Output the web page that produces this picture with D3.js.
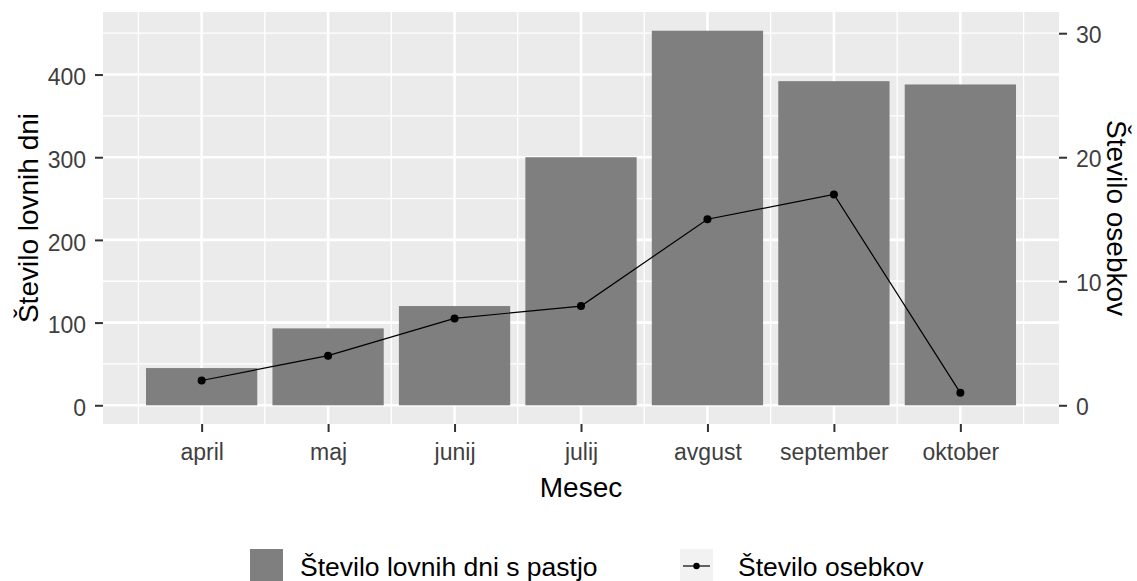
<!DOCTYPE html>
<html>
<head>
<meta charset="utf-8">
<script src="https://cdn.jsdelivr.net/npm/d3@7"></script>
<style>
  body { margin: 0; background: #fff; }
  text { font-family: "Liberation Sans", Arial, sans-serif; }
</style>
</head>
<body>
<div id="chart"></div>
<script>
// podatki
let meseci = ["april", "maj", "junij", "julij", "avgust", "september", "oktober"];
let lovniDnevi = [45, 93, 120, 300, 453, 392, 388];
let osebki = [2, 4, 7, 8, 15, 17, 1];
let leviTicks = [0, 100, 200, 300, 400];
let desniTicks = [0, 10, 20, 30];
let faktor = 15; // desna os = leva / 15

let W = 1137, H = 581;
let panel = { left: 103, right: 1059, top: 12, bottom: 424 };

let svg = d3.select("#chart").append("svg")
  .attr("width", W)
  .attr("height", H);

let xScale = d3.scaleLinear()
  .domain([0.22, meseci.length + 0.78])
  .range([panel.left, panel.right]);
let step = xScale(2) - xScale(1);

let maxBar = d3.max(lovniDnevi);
let yScale = d3.scaleLinear()
  .domain([-maxBar * 0.05, maxBar * 1.05])
  .range([panel.bottom, panel.top]);
let y2Scale = d3.scaleLinear()
  .domain(yScale.domain().map(d => d / faktor))
  .range([panel.bottom, panel.top]);

//ozadje
svg.append("rect")
  .attr("x", panel.left).attr("y", panel.top)
  .attr("width", panel.right - panel.left)
  .attr("height", panel.bottom - panel.top)
  .attr("fill", "#EBEBEB");

//minor mreza
let minorY = d3.range(50, maxBar * 1.05, 100);
svg.append("g").selectAll("line")
  .data(minorY).enter().append("line")
  .attr("x1", panel.left).attr("x2", panel.right)
  .attr("y1", d => yScale(d)).attr("y2", d => yScale(d))
  .attr("stroke", "#fff").attr("stroke-width", 1.3);

let minorX = d3.range(0.5, meseci.length + 1, 1);
svg.append("g").selectAll("line")
  .data(minorX).enter().append("line")
  .attr("x1", d => xScale(d)).attr("x2", d => xScale(d))
  .attr("y1", panel.top).attr("y2", panel.bottom)
  .attr("stroke", "#fff").attr("stroke-width", 1.3);

//major mreza
svg.append("g").selectAll("line")
  .data(leviTicks).enter().append("line")
  .attr("x1", panel.left).attr("x2", panel.right)
  .attr("y1", d => yScale(d)).attr("y2", d => yScale(d))
  .attr("stroke", "#fff").attr("stroke-width", 2.6);

svg.append("g").selectAll("line")
  .data(meseci).enter().append("line")
  .attr("x1", (d, i) => xScale(i + 1)).attr("x2", (d, i) => xScale(i + 1))
  .attr("y1", panel.top).attr("y2", panel.bottom)
  .attr("stroke", "#fff").attr("stroke-width", 2.6);

//stolpci
svg.append("g").selectAll("rect")
  .data(lovniDnevi).enter().append("rect")
  .attr("x", (d, i) => xScale(i + 1) - step * 0.44)
  .attr("width", step * 0.88)
  .attr("y", d => yScale(d))
  .attr("height", d => yScale(0) - yScale(d))
  .attr("fill", "#7F7F7F");

//crta
let line = d3.line()
  .x((d, i) => xScale(i + 1))
  .y(d => y2Scale(d));

svg.append("path")
  .datum(osebki)
  .attr("d", line)
  .attr("fill", "none")
  .attr("stroke", "#000")
  .attr("stroke-width", 1.2);

svg.append("g").selectAll("circle")
  .data(osebki).enter().append("circle")
  .attr("cx", (d, i) => xScale(i + 1))
  .attr("cy", d => y2Scale(d))
  .attr("r", 4)
  .attr("fill", "#000");

//osi
let axisColor = "#333333", labelColor = "#3F3F3F";

let yAxisCall = d3.axisLeft(yScale).tickValues(leviTicks).tickSize(8).tickPadding(9);
let yAxisGroup = svg.append("g")
  .attr("transform", `translate(${panel.left}, 0)`)
  .call(yAxisCall);

let y2AxisCall = d3.axisRight(y2Scale).tickValues(desniTicks).tickSize(8).tickPadding(9);
let y2AxisGroup = svg.append("g")
  .attr("transform", `translate(${panel.right}, 0)`)
  .call(y2AxisCall);

let xAxisCall = d3.axisBottom(xScale)
  .tickValues(d3.range(1, meseci.length + 1))
  .tickFormat(d => meseci[d - 1])
  .tickSize(8).tickPadding(10);
let xAxisGroup = svg.append("g")
  .attr("transform", `translate(0, ${panel.bottom})`)
  .call(xAxisCall);

[yAxisGroup, y2AxisGroup, xAxisGroup].forEach(g => {
  g.select(".domain").remove();
  g.selectAll(".tick line").attr("stroke", axisColor).attr("stroke-width", 2);
  g.selectAll(".tick text")
    .attr("fill", labelColor)
    .style("font-size", "23px");
});
yAxisGroup.selectAll(".tick text").attr("dy", "0.45em");
y2AxisGroup.selectAll(".tick text").attr("dy", "0.42em");
xAxisGroup.selectAll(".tick text").attr("dy", "0.78em");

//naslovi osi
let midY = (panel.top + panel.bottom) / 2;
svg.append("text")
  .attr("x", (panel.left + panel.right) / 2)
  .attr("y", 497)
  .attr("text-anchor", "middle")
  .style("font-size", "28px")
  .text("Mesec");

svg.append("text")
  .attr("transform", `translate(38, ${midY}) rotate(-90)`)
  .attr("text-anchor", "middle")
  .style("font-size", "28px")
  .text("Število lovnih dni");

svg.append("text")
  .attr("transform", `translate(1107, ${midY}) rotate(90)`)
  .attr("text-anchor", "middle")
  .style("font-size", "28px")
  .text("Število osebkov");

//legenda
let legend = svg.append("g");
legend.append("rect")
  .attr("x", 250).attr("y", 549)
  .attr("width", 33).attr("height", 34)
  .attr("fill", "#7F7F7F");
legend.append("text")
  .attr("x", 300).attr("y", 576)
  .style("font-size", "26.5px")
  .text("Število lovnih dni s pastjo");

legend.append("rect")
  .attr("x", 680).attr("y", 549)
  .attr("width", 33).attr("height", 34)
  .attr("fill", "#F2F2F2");
legend.append("line")
  .attr("x1", 683).attr("x2", 710)
  .attr("y1", 566).attr("y2", 566)
  .attr("stroke", "#000").attr("stroke-width", 1.2);
legend.append("circle")
  .attr("cx", 696.5).attr("cy", 566).attr("r", 3.2)
  .attr("fill", "#000");
legend.append("text")
  .attr("x", 738).attr("y", 576)
  .style("font-size", "26.5px")
  .text("Število osebkov");
</script>
</body>
</html>
